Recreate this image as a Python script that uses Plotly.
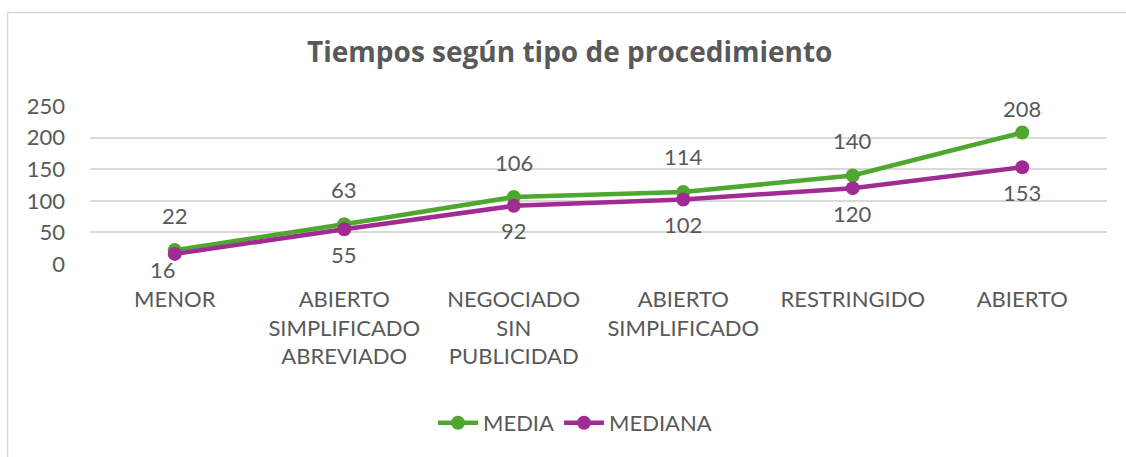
import plotly.graph_objects as go

categories = ["MENOR", "ABIERTO<br>SIMPLIFICADO<br>ABREVIADO", "NEGOCIADO<br>SIN<br>PUBLICIDAD",
              "ABIERTO<br>SIMPLIFICADO", "RESTRINGIDO", "ABIERTO"]
media = [22, 63, 106, 114, 140, 208]
mediana = [16, 55, 92, 102, 120, 153]
y_ticks = [0, 50, 100, 150, 200, 250]

GREEN = "#4EA72E"
PURPLE = "#A02B93"
TXT = "#595959"
FONT = "Lato"
FS = 22

W, H = 1126, 457
L, R, T, B = 90, 19, 106, 193
pw, ph = W - L - R, H - T - B

x = list(range(len(categories)))

fig = go.Figure()
fig.add_trace(go.Scatter(x=x, y=media, name="MEDIA", mode="lines+markers",
                         line=dict(color=GREEN, width=4.5), marker=dict(size=14, color=GREEN)))
fig.add_trace(go.Scatter(x=x, y=mediana, name="MEDIANA", mode="lines+markers",
                         line=dict(color=PURPLE, width=4.5), marker=dict(size=14, color=PURPLE)))

annotations = []
for i, v in enumerate(media):
    ys = 24 if i == len(media) - 1 else 35
    annotations.append(dict(x=x[i], y=v, text=str(v), showarrow=False, yshift=ys,
                            font=dict(family=FONT, size=FS, color=TXT)))
for i, v in enumerate(mediana):
    ys, xs = (-16, -12) if i == 0 else (-25, 0)
    annotations.append(dict(x=x[i], y=v, text=str(v), showarrow=False, yshift=ys, xshift=xs,
                            font=dict(family=FONT, size=FS, color=TXT)))

def px_x(p):
    return (p - L) / pw

def px_y(p):
    return (H - B - p) / ph

shapes = [
    dict(type="line", xref="paper", yref="paper", x0=px_x(7.5), x1=px_x(7.5), y0=px_y(12.5), y1=px_y(H + 5),
         line=dict(color="#D9D9D9", width=1.5)),
    dict(type="line", xref="paper", yref="paper", x0=px_x(7.5), x1=px_x(W + 5), y0=px_y(12.5), y1=px_y(12.5),
         line=dict(color="#D9D9D9", width=1.5)),
]

fig.update_layout(
    width=W, height=H,
    margin=dict(l=L, r=R, t=T, b=B),
    paper_bgcolor="white", plot_bgcolor="white",
    font=dict(family=FONT, size=FS, color=TXT),
    title=dict(text="<b>Tiempos según tipo de procedimiento</b>", x=0.506, xref="container",
               y=1 - 52 / H, yref="container", yanchor="middle", xanchor="center",
               font=dict(family="Open Sans", size=28, color=TXT)),
    xaxis=dict(tickmode="array", tickvals=x, ticktext=categories, range=[-0.5, len(categories) - 0.5],
               showgrid=False, zeroline=False, showline=False, ticks="", ticklabelstandoff=20,
               tickfont=dict(family=FONT, size=FS, color=TXT)),
    yaxis=dict(range=[0, 250], tickvals=y_ticks, showgrid=True, gridcolor="#D9D9D9", gridwidth=1.5,
               zeroline=False, showline=False, ticks="", ticklabelstandoff=24,
               tickfont=dict(family=FONT, size=FS, color=TXT)),
    legend=dict(orientation="h", x=px_x(575), xanchor="center", y=px_y(423), yanchor="middle",
                font=dict(family=FONT, size=FS, color=TXT), itemwidth=40),
    showlegend=True,
    annotations=annotations,
    shapes=shapes,
)

fig.write_html("out.html", config={"displayModeBar": False},
               post_script="document.body.style.margin='0';")
